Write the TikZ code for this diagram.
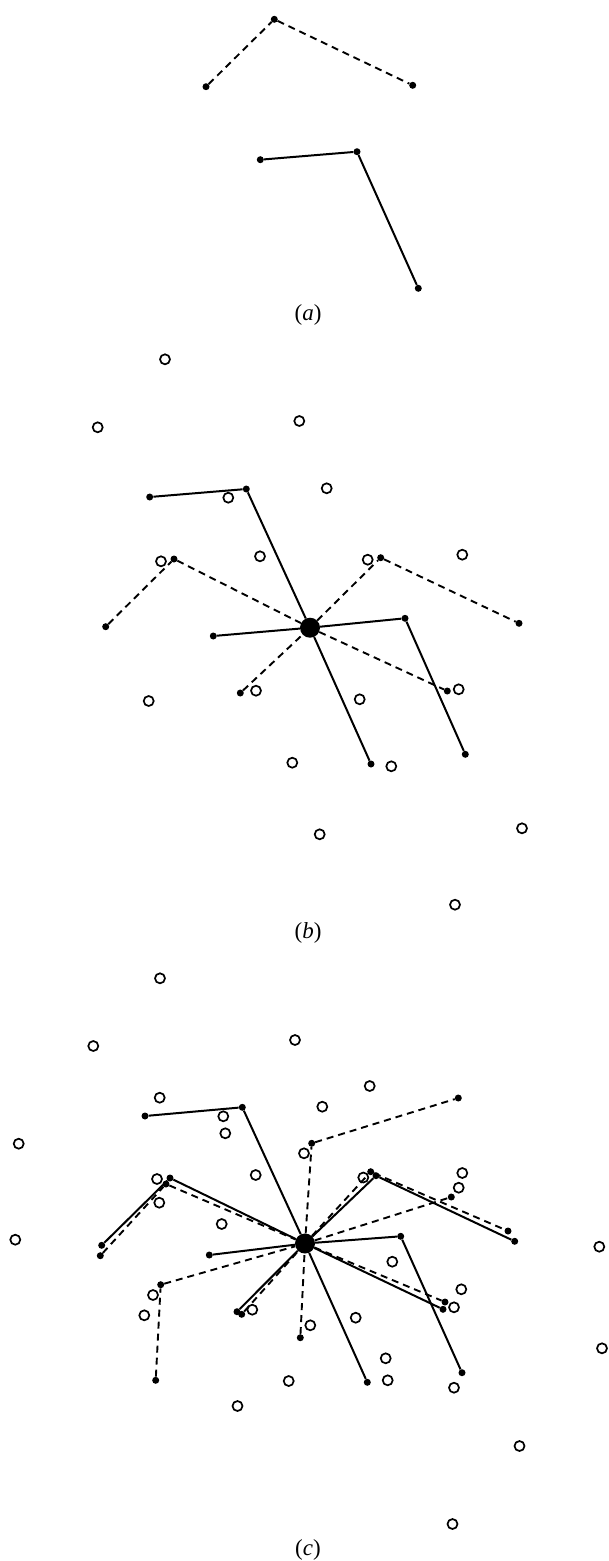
\documentclass[tikz,border=0pt]{standalone}
\usepackage{fontspec}
\setmainfont{Liberation Serif}

\begin{document}
\begin{tikzpicture}[x=1pt, y=-1pt,
    atom/.style={circle, fill=black, inner sep=0pt, minimum size=7pt},
    hub/.style={circle, fill=black, inner sep=0pt, minimum size=20pt},
    site/.style={circle, draw=black, line width=1.7pt, inner sep=0pt, minimum size=10pt},
    bond/.style={line width=2pt},
    ghost/.style={line width=1.9pt, dash pattern=on 7pt off 5pt},
    tag/.style={anchor=base, font=\fontsize{23}{27}\selectfont}]
    \useasboundingbox (0,0) rectangle (609,1561);

    % (a) the two fragments
    \node[atom] (va1) at (206,86.7) {};
    \node[atom] (va2) at (274.3,19.3) {};
    \node[atom] (va3) at (412.7,85.3) {};
    \draw[ghost] (va1) -- (va2) -- (va3);
    \node[atom] (sa1) at (260.3,159.7) {};
    \node[atom] (sa2) at (357,151.7) {};
    \node[atom] (sa3) at (418.3,288.3) {};
    \draw[bond] (sa1) -- (sa2) -- (sa3);
    \node[tag] (la) at (308,320) {(\textit{a})};

    % (b) fragments placed on one site
    \node[hub] (hb) at (310,627.7) {};
    \node[atom] (vb1) at (105.7,626.7) {};
    \node[atom] (vb2) at (174,559) {};
    \node[atom] (vb3) at (380.7,557.7) {};
    \node[atom] (vb4) at (519,623.3) {};
    \node[atom] (vb5) at (240.3,693) {};
    \node[atom] (vb6) at (447.3,691) {};
    \draw[ghost] (vb1) -- (vb2) -- (hb);
    \draw[ghost] (hb) -- (vb3) -- (vb4);
    \draw[ghost] (vb5) -- (hb) -- (vb6);
    \node[atom] (sb1) at (149.7,497) {};
    \node[atom] (sb2) at (246.3,489) {};
    \node[atom] (sb3) at (213.3,636) {};
    \node[atom] (sb4) at (371,764) {};
    \node[atom] (sb5) at (405,618.3) {};
    \node[atom] (sb6) at (465.3,754.3) {};
    \draw[bond] (sb1) -- (sb2) -- (hb);
    \draw[bond] (sb3) -- (hb) -- (sb4);
    \draw[bond] (hb) -- (sb5) -- (sb6);
    % open sites
    \node[site] (ob1) at (165,359.3) {};
    \node[site] (ob2) at (97.7,427.3) {};
    \node[site] (ob3) at (299.3,421) {};
    \node[site] (ob4) at (326.7,488.3) {};
    \node[site] (ob5) at (228.3,497.7) {};
    \node[site] (ob6) at (260,556.3) {};
    \node[site] (ob7) at (161,561.3) {};
    \node[site] (ob8) at (367.7,559.7) {};
    \node[site] (ob9) at (462.3,554.7) {};
    \node[site] (ob10) at (256,690.7) {};
    \node[site] (ob11) at (148.7,701) {};
    \node[site] (ob12) at (359.7,699.3) {};
    \node[site] (ob13) at (458.7,689.3) {};
    \node[site] (ob14) at (292.3,762.7) {};
    \node[site] (ob15) at (391.3,766.3) {};
    \node[site] (ob16) at (319.7,834.3) {};
    \node[site] (ob17) at (522,828.3) {};
    \node[site] (ob18) at (455,904.7) {};
    \node[tag] (lb) at (308,938.2) {(\textit{b})};

    % (c) all placements on one site
    \node[hub] (hc) at (305,1243.5) {};
    % solid fragment
    \node[atom] (sc1) at (145,1116) {};
    \node[atom] (sc2) at (242.3,1107.3) {};
    \node[atom] (sc3) at (209.3,1255) {};
    \node[atom] (sc4) at (367.3,1382.3) {};
    \node[atom] (sc5) at (400.7,1236.3) {};
    \node[atom] (sc6) at (462,1372.7) {};
    \draw[bond] (sc1) -- (sc2) -- (hc);
    \draw[bond] (sc3) -- (hc) -- (sc4);
    \draw[bond] (hc) -- (sc5) -- (sc6);
    % bent fragment, solid
    \node[atom] (tc1) at (101.7,1245.3) {};
    \node[atom] (tc2) at (170,1178) {};
    \node[atom] (tc3) at (376,1175.7) {};
    \node[atom] (tc4) at (514.7,1241.3) {};
    \node[atom] (tc5) at (237,1311.7) {};
    \node[atom] (tc6) at (443,1309.3) {};
    \draw[bond] (tc1) -- (tc2) -- (hc);
    \draw[bond] (hc) -- (tc3) -- (tc4);
    \draw[bond] (tc5) -- (hc) -- (tc6);
    % bent fragment, turned a little
    \node[atom] (uc1) at (100.3,1255.7) {};
    \node[atom] (uc2) at (166,1184) {};
    \node[atom] (uc3) at (370.7,1171.7) {};
    \node[atom] (uc4) at (508,1231) {};
    \node[atom] (uc5) at (241.7,1314.3) {};
    \node[atom] (uc6) at (445,1302) {};
    \draw[ghost] (uc1) -- (uc2) -- (hc);
    \draw[ghost] (hc) -- (uc3) -- (uc4);
    \draw[ghost] (uc5) -- (hc) -- (uc6);
    % bent fragment, turned further
    \node[atom] (wc1) at (155.7,1380.3) {};
    \node[atom] (wc2) at (160.7,1284.7) {};
    \node[atom] (wc3) at (311.7,1143.3) {};
    \node[atom] (wc4) at (458.3,1098) {};
    \node[atom] (wc5) at (300.3,1337.7) {};
    \node[atom] (wc6) at (451.3,1197) {};
    \draw[ghost] (wc1) -- (wc2) -- (hc);
    \draw[ghost] (hc) -- (wc3) -- (wc4);
    \draw[ghost] (wc5) -- (hc) -- (wc6);
    % open sites
    \node[site] (oc1) at (160,978.3) {};
    \node[site] (oc2) at (93.3,1046) {};
    \node[site] (oc3) at (295,1040) {};
    \node[site] (oc4) at (159.7,1097.7) {};
    \node[site] (oc5) at (223.3,1116.3) {};
    \node[site] (oc6) at (225.3,1133.3) {};
    \node[site] (oc7) at (18.7,1143.7) {};
    \node[site] (oc8) at (15.3,1239.7) {};
    \node[site] (oc9) at (369.7,1086) {};
    \node[site] (oc10) at (322.3,1106.7) {};
    \node[site] (oc11) at (304,1153.3) {};
    \node[site] (oc12) at (255.7,1175) {};
    \node[site] (oc13) at (157,1179) {};
    \node[site] (oc14) at (363.3,1177.5) {};
    \node[site] (oc15) at (462.3,1173) {};
    \node[site] (oc16) at (159.3,1202.7) {};
    \node[site] (oc17) at (458.7,1187.7) {};
    \node[site] (oc18) at (221.7,1224) {};
    \node[site] (oc19) at (599.3,1246.7) {};
    \node[site] (oc20) at (392.3,1261.7) {};
    \node[site] (oc21) at (461.3,1289.3) {};
    \node[site] (oc22) at (153,1295) {};
    \node[site] (oc23) at (454,1307.3) {};
    \node[site] (oc24) at (144.3,1315.3) {};
    \node[site] (oc25) at (252.3,1309.7) {};
    \node[site] (oc26) at (355.7,1317.7) {};
    \node[site] (oc27) at (310.3,1325.3) {};
    \node[site] (oc28) at (602,1348.3) {};
    \node[site] (oc29) at (385.7,1358.3) {};
    \node[site] (oc30) at (288.7,1381) {};
    \node[site] (oc31) at (387.7,1380.3) {};
    \node[site] (oc32) at (454,1387.7) {};
    \node[site] (oc33) at (237.5,1406) {};
    \node[site] (oc34) at (519.5,1446) {};
    \node[site] (oc35) at (452.5,1524) {};
    \node[tag] (lc) at (308,1555) {(\textit{c})};
\end{tikzpicture}
\end{document}
